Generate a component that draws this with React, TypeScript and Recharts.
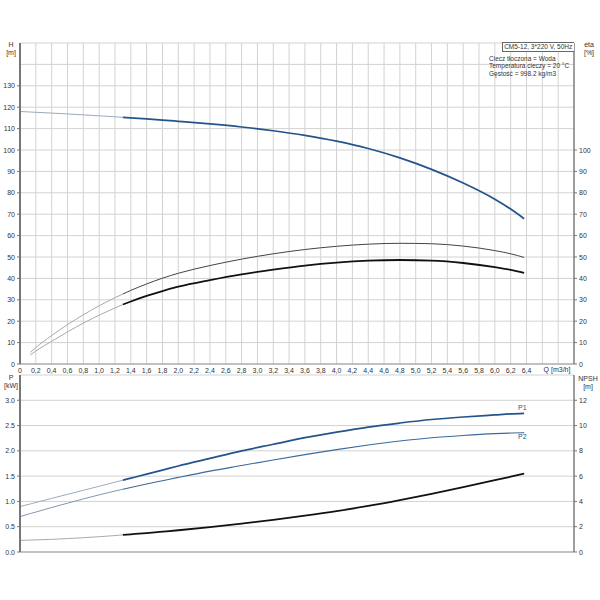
import React from 'react'
import { LineChart, Line, XAxis, YAxis, CartesianGrid } from 'recharts'

// flow points [m3/h]
const q = [0, 0.13, 0.2, 0.4, 0.6, 0.8, 1.0, 1.2, 1.3, 1.4, 1.6, 1.8, 2.0, 2.4, 2.8, 3.2, 3.6, 4.0, 4.4, 4.8, 5.2, 5.6, 6.0, 6.2, 6.37]
// head H [m]
const head = [118.0, 117.75, 117.62, 117.24, 116.84, 116.42, 115.98, 115.52, 115.28, 115.04, 114.54, 114.0, 113.42, 112.2, 110.76, 109.0, 106.84, 104.12, 100.68, 96.32, 90.96, 84.56, 77.0, 72.4, 67.9]
// efficiencies [%] (pump / total)
const etaPump = [null, 5.4, 7.7, 13.3, 18.4, 23.0, 27.2, 31.0, 32.7, 34.4, 37.4, 40.1, 42.4, 46.0, 49.0, 51.5, 53.5, 55.0, 56.0, 56.4, 56.2, 55.1, 53.0, 51.5, 49.8]
const etaTotal = [null, 4.2, 6.1, 10.6, 15.0, 19.1, 22.8, 26.2, 27.8, 29.2, 31.8, 34.1, 36.1, 39.2, 41.9, 44.1, 46.0, 47.4, 48.3, 48.6, 48.3, 47.2, 45.3, 44.0, 42.6]
// power [kW]
const p1 = [0.90, 0.95, 0.98, 1.06, 1.14, 1.22, 1.30, 1.38, 1.42, 1.46, 1.54, 1.62, 1.70, 1.85, 2.00, 2.13, 2.26, 2.37, 2.47, 2.55, 2.62, 2.67, 2.71, 2.73, 2.74]
const p2 = [0.70, 0.76, 0.79, 0.88, 0.965, 1.05, 1.13, 1.205, 1.24, 1.275, 1.345, 1.41, 1.475, 1.60, 1.71, 1.82, 1.925, 2.025, 2.115, 2.195, 2.26, 2.305, 2.34, 2.352, 2.36]
// NPSH [m]
const npsh = [0.92, 0.945, 0.96, 1.0, 1.06, 1.13, 1.21, 1.30, 1.35, 1.40, 1.50, 1.61, 1.72, 1.97, 2.24, 2.54, 2.87, 3.23, 3.64, 4.10, 4.60, 5.13, 5.68, 5.96, 6.2]

const qTicks = [0, 0.2, 0.4, 0.6, 0.8, 1.0, 1.2, 1.4, 1.6, 1.8, 2.0, 2.2, 2.4, 2.6, 2.8, 3.0, 3.2, 3.4, 3.6, 3.8, 4.0, 4.2, 4.4, 4.6, 4.8, 5.0, 5.2, 5.4, 5.6, 5.8, 6.0, 6.2, 6.4, 6.6, 6.8, 7.0]
const hTicks = [0, 10, 20, 30, 40, 50, 60, 70, 80, 90, 100, 110, 120, 130, 140, 150]
const etaTicks = [0, 10, 20, 30, 40, 50, 60, 70, 80, 90, 100]
const pTicks = [0, 0.5, 1.0, 1.5, 2.0, 2.5, 3.0, 3.5]
const npshTicks = [0, 2, 4, 6, 8, 10, 12, 14]

const SPLIT = 1.3 // below this the curves are drawn thin

const part = (arr: (number | null)[], i: number, thin: boolean) =>
  thin ? (q[i] <= SPLIT ? arr[i] : null) : (q[i] >= SPLIT ? arr[i] : null)

const topData = q.map((v, i) => ({
  q: v,
  hThin: part(head, i, true), hThick: part(head, i, false),
  epThin: part(etaPump, i, true), epThick: part(etaPump, i, false),
  etThin: part(etaTotal, i, true), etThick: part(etaTotal, i, false),
}))

const botData = q.map((v, i) => ({
  q: v,
  p1Thin: part(p1, i, true), p1Thick: part(p1, i, false),
  p2Thin: part(p2, i, true), p2Thick: part(p2, i, false),
  nThin: part(npsh, i, true), nThick: part(npsh, i, false),
}))

const FONT = '"Liberation Sans", Arial, sans-serif'
const BLUE = '#24548a'
const BLUE_THIN = '#9aaabd'
const GRID = '#d2d2d2'
const AXIS = '#777'

function XTick(props: any) {
  const { x, y, payload } = props
  if (payload.value > 6.41) return <g />
  const label = payload.value === 0 ? '0' : payload.value.toFixed(1).replace('.', ',')
  return (
    <text x={x} y={y + 6} textAnchor="middle" dominantBaseline="central" fontSize={7} fill="#333" fontFamily={FONT}>
      {label}
    </text>
  )
}

function makeYTick(maxLabel: number, fmt: (v: number) => string, side: 'left' | 'right') {
  return (props: any) => {
    const { x, y, payload } = props
    if (payload.value > maxLabel) return <g />
    const lx = side === 'left' ? x + 2 : x - 5
    return (
      <g>
        <line x1={lx} x2={lx + 3} y1={y} y2={y} stroke={AXIS} />
        <text x={x} y={y} textAnchor={side === 'left' ? 'end' : 'start'} dominantBaseline="central" fontSize={7} fill="#333" fontFamily={FONT}>
          {fmt(payload.value)}
        </text>
      </g>
    )
  }
}

const hTick = makeYTick(130, (v) => String(v), 'left')
const etaTick = makeYTick(100, (v) => String(v), 'right')
const pTick = makeYTick(3.0, (v) => v.toFixed(1), 'left')
const npshTick = makeYTick(12, (v) => String(v), 'right')

const txt: React.CSSProperties = { position: 'absolute', fontFamily: FONT, fontSize: 7, color: '#333', lineHeight: '8px', whiteSpace: 'nowrap' }

export default function App() {
  return (
    <div style={{ position: 'absolute', left: 0, top: 0, width: 600, height: 600, background: '#fff' }}>
      <div style={{ position: 'absolute', left: 0, top: 0 }}>
        <LineChart width={600} height={380} data={topData} margin={{ top: 43, right: 0, left: 0, bottom: 0 }}>
          <CartesianGrid stroke={GRID} strokeWidth={1} />
          <XAxis dataKey="q" type="number" domain={[0, 7]} ticks={qTicks} allowDataOverflow
            height={16} tickSize={0} tickMargin={0} tick={XTick} axisLine={{ stroke: '#999' }} tickLine={false} interval={0} />
          <YAxis domain={[0, 150]} ticks={hTicks} width={20} tickSize={0} tickMargin={5} tick={hTick}
            tickLine={false} axisLine={{ stroke: AXIS, strokeWidth: 2 }} interval={0} />
          <YAxis yAxisId="r" orientation="right" domain={[0, 150]} ticks={etaTicks} width={26} tickSize={0} tickMargin={5}
            tick={etaTick} tickLine={false} axisLine={{ stroke: '#555' }} interval={0} />
          <Line dataKey="hThin" stroke={BLUE_THIN} strokeWidth={1} dot={false} type="monotone" isAnimationActive={false} />
          <Line dataKey="epThin" yAxisId="r" stroke="#aaa" strokeWidth={1} dot={false} type="monotone" isAnimationActive={false} />
          <Line dataKey="etThin" yAxisId="r" stroke="#aaa" strokeWidth={1} dot={false} type="monotone" isAnimationActive={false} />
          <Line dataKey="hThick" stroke={BLUE} strokeWidth={1.7} dot={false} type="monotone" isAnimationActive={false} />
          <Line dataKey="epThick" yAxisId="r" stroke="#444" strokeWidth={1} dot={false} type="monotone" isAnimationActive={false} />
          <Line dataKey="etThick" yAxisId="r" stroke="#111" strokeWidth={1.8} dot={false} type="monotone" isAnimationActive={false} />
        </LineChart>
      </div>

      <div style={{ position: 'absolute', left: 0, top: 365 }}>
        <LineChart width={600} height={200} data={botData} margin={{ top: 10, right: 0, left: 0, bottom: 12 }}>
          <CartesianGrid stroke={GRID} strokeWidth={1} />
          <XAxis dataKey="q" type="number" domain={[0, 7]} ticks={qTicks} allowDataOverflow
            height={1} tick={false} tickLine={false} axisLine={{ stroke: '#999' }} interval={0} />
          <YAxis domain={[0, 3.5]} ticks={pTicks} width={20} tickSize={0} tickMargin={5} tick={pTick}
            tickLine={false} axisLine={{ stroke: AXIS, strokeWidth: 2 }} interval={0} />
          <YAxis yAxisId="r" orientation="right" domain={[0, 14]} ticks={npshTicks} width={26} tickSize={0} tickMargin={5}
            tick={npshTick} tickLine={false} axisLine={{ stroke: '#555' }} interval={0} />
          <Line dataKey="p1Thin" stroke={BLUE_THIN} strokeWidth={1} dot={false} type="monotone" isAnimationActive={false} />
          <Line dataKey="p2Thin" stroke="#7f98b3" strokeWidth={1} dot={false} type="monotone" isAnimationActive={false} />
          <Line dataKey="nThin" yAxisId="r" stroke="#aaa" strokeWidth={1} dot={false} type="monotone" isAnimationActive={false} />
          <Line dataKey="p1Thick" stroke={BLUE} strokeWidth={1.7} dot={false} type="monotone" isAnimationActive={false} />
          <Line dataKey="p2Thick" stroke="#3b6a9c" strokeWidth={1.1} dot={false} type="monotone" isAnimationActive={false} />
          <Line dataKey="nThick" yAxisId="r" stroke="#111" strokeWidth={1.8} dot={false} type="monotone" isAnimationActive={false} />
        </LineChart>
      </div>

      <div style={{ ...txt, left: 0, width: 22, top: 41, textAlign: 'center' }}>H<br />[m]</div>
      <div style={{ ...txt, left: 578, width: 22, top: 41, textAlign: 'center' }}>eta<br />[%]</div>
      <div style={{ ...txt, left: 0, width: 22, top: 374, textAlign: 'center' }}>P<br />[kW]</div>
      <div style={{ ...txt, left: 576, width: 24, top: 375, textAlign: 'center' }}>NPSH<br />[m]</div>
      <div style={{ ...txt, left: 540, top: 366, width: 34, textAlign: 'center' }}>Q [m3/h]</div>

      <div style={{ ...txt, left: 502, top: 42, width: 71, height: 8, border: '1px solid #666', borderRight: 'none', textAlign: 'right', fontSize: 6.5, lineHeight: '8px', background: '#fff' }}>
        CM5-12, 3*220 V, 50Hz&nbsp;
      </div>
      <div style={{ ...txt, left: 489, top: 55, fontSize: 6.5, lineHeight: '7.3px' }}>
        Ciecz tłoczona = Woda<br />Temperatura cieczy = 20 °C<br />Gęstość = 998.2 kg/m3
      </div>

      <div style={{ ...txt, left: 518, top: 404, color: BLUE }}>P1</div>
      <div style={{ ...txt, left: 518, top: 433, color: BLUE }}>P2</div>
    </div>
  )
}
